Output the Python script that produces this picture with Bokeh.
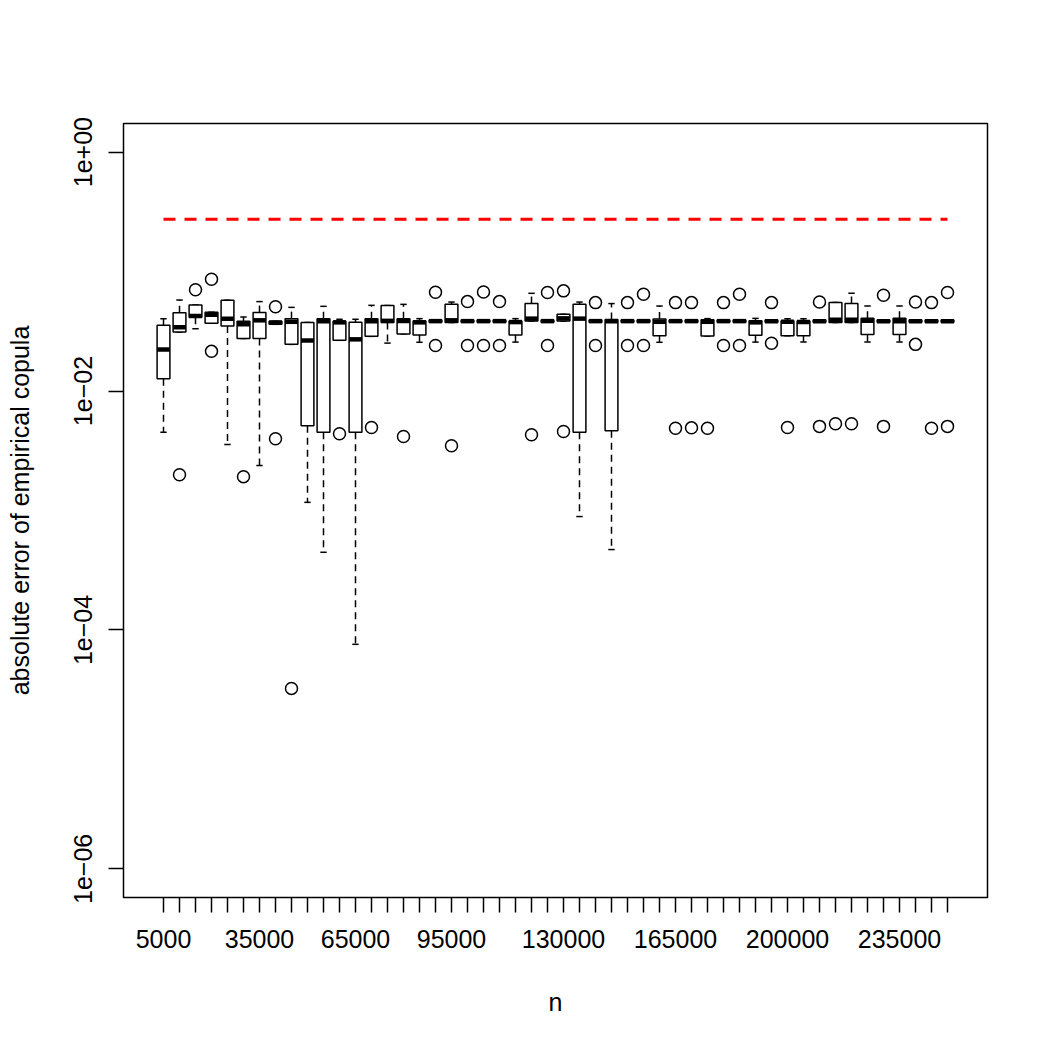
from bokeh.plotting import figure
from bokeh.models import Range1d, FixedTicker
from bokeh.embed import file_html
from bokeh.resources import INLINE

# sample sizes, one box per n
n_values = list(range(5000, 250001, 5000))
labelled_n = [5000, 35000, 65000, 95000, 130000, 165000, 200000, 235000]

# five-number summaries of the absolute error for each n
lower_whisker = [0.00453, 0.0312, 0.0333, 0.0369, 0.00357, 0.0276, 0.00238, 0.0362, 0.0246, 0.00117,
                 0.000447, 0.0266, 0.0000758, 0.0287, 0.0252, 0.0301, 0.0256, 0.0377, 0.0375, 0.0377,
                 0.0377, 0.0377, 0.0257, 0.0386, 0.0377, 0.0386, 0.000890, 0.0377, 0.000471, 0.0377,
                 0.0377, 0.0256, 0.0377, 0.0377, 0.0289, 0.0377, 0.0377, 0.0257, 0.0377, 0.0290,
                 0.0258, 0.0377, 0.0375, 0.0375, 0.0258, 0.0377, 0.0258, 0.0377, 0.0377, 0.0377]
q1 = [0.0127, 0.0312, 0.0414, 0.0369, 0.0350, 0.0276, 0.0276, 0.0362, 0.0246, 0.00513,
      0.00453, 0.0266, 0.00453, 0.0287, 0.0375, 0.0301, 0.0295, 0.0377, 0.0375, 0.0377,
      0.0377, 0.0377, 0.0295, 0.0386, 0.0377, 0.0386, 0.00453, 0.0377, 0.00465, 0.0377,
      0.0377, 0.0291, 0.0377, 0.0377, 0.0289, 0.0377, 0.0377, 0.0293, 0.0377, 0.0290,
      0.0290, 0.0377, 0.0375, 0.0375, 0.0298, 0.0377, 0.0298, 0.0377, 0.0377, 0.0377]
median = [0.0223, 0.0342, 0.0426, 0.0435, 0.0404, 0.0362, 0.0391, 0.0374, 0.0380, 0.0265,
          0.0384, 0.0376, 0.0271, 0.0384, 0.0387, 0.0386, 0.0376, 0.0385, 0.0391, 0.0385,
          0.0385, 0.0385, 0.0378, 0.0404, 0.0385, 0.0406, 0.0404, 0.0385, 0.0384, 0.0385,
          0.0385, 0.0380, 0.0385, 0.0385, 0.0380, 0.0385, 0.0385, 0.0376, 0.0385, 0.0380,
          0.0378, 0.0385, 0.0395, 0.0395, 0.0387, 0.0385, 0.0384, 0.0385, 0.0385, 0.0385]
q3 = [0.0355, 0.0452, 0.0525, 0.0456, 0.0575, 0.0384, 0.0454, 0.0384, 0.0404, 0.0375,
      0.0404, 0.0384, 0.0376, 0.0404, 0.0520, 0.0404, 0.0386, 0.0393, 0.0532, 0.0393,
      0.0393, 0.0393, 0.0386, 0.0540, 0.0393, 0.0439, 0.0534, 0.0393, 0.0397, 0.0393,
      0.0393, 0.0402, 0.0393, 0.0393, 0.0395, 0.0393, 0.0393, 0.0387, 0.0393, 0.0387,
      0.0386, 0.0393, 0.0550, 0.0540, 0.0406, 0.0393, 0.0406, 0.0393, 0.0393, 0.0393]
upper_whisker = [0.0403, 0.0578, 0.0525, 0.0456, 0.0575, 0.0417, 0.0561, 0.0384, 0.0502, 0.0375,
                 0.0512, 0.0399, 0.0399, 0.0522, 0.0520, 0.0532, 0.0404, 0.0393, 0.0556, 0.0393,
                 0.0393, 0.0393, 0.0404, 0.0658, 0.0393, 0.0439, 0.0556, 0.0393, 0.0540, 0.0393,
                 0.0393, 0.0515, 0.0393, 0.0393, 0.0404, 0.0393, 0.0393, 0.0406, 0.0393, 0.0404,
                 0.0404, 0.0393, 0.0550, 0.0658, 0.0515, 0.0393, 0.0515, 0.0393, 0.0393, 0.0393]

# points beyond the whiskers: box number (1-based) and value
outlier_box = [2, 3, 4, 4, 6, 8, 8, 9, 12, 14, 16, 18, 18, 19, 20, 20, 21, 21, 22, 22,
               24, 25, 25, 26, 26, 28, 28, 30, 30, 31, 31, 33, 33, 34, 34, 35, 36, 36, 37, 37,
               39, 39, 40, 42, 42, 43, 44, 46, 46, 48, 48, 49, 49, 50, 50]
outlier_value = [0.00199, 0.0704, 0.0862, 0.0215, 0.00192, 0.0508, 0.00399, 0.0000324, 0.00439, 0.00496,
                 0.00417, 0.0671, 0.0241, 0.00348, 0.0561, 0.0241, 0.0675, 0.0241, 0.0561, 0.0241,
                 0.00431, 0.0668, 0.0241, 0.0690, 0.00459, 0.0550, 0.0241, 0.0550, 0.0241, 0.0646,
                 0.0241, 0.0550, 0.00489, 0.0550, 0.00492, 0.00489, 0.0550, 0.0241, 0.0646, 0.0241,
                 0.0550, 0.0251, 0.00496, 0.0556, 0.00506, 0.00533, 0.00533, 0.0633, 0.00506, 0.0556,
                 0.0246, 0.0550, 0.00489, 0.0668, 0.00506]

# horizontal reference level (red dashed)
reference_level = 0.275

FONT = "Liberation Sans"
positions = list(range(1, len(n_values) + 1))

p = figure(width=1050, height=1050, y_axis_type="log",
           x_range=Range1d(-1.5, len(n_values) + 2.5),
           y_range=Range1d(10 ** -6.24, 10 ** 0.24),
           output_backend="svg", toolbar_location=None,
           min_border_left=123, min_border_right=63,
           min_border_top=123, min_border_bottom=153,
           background_fill_color="white", border_fill_color="white")
p.grid.visible = False
p.outline_line_color = "black"
p.outline_line_width = 1.5
p.outline_line_alpha = 1.0

# x axis: a tick under every box, labels only on some of them
xlabels = {}
for pos, n in zip(positions, n_values):
    xlabels[pos] = str(n) if n in labelled_n else ""
p.xaxis.ticker = FixedTicker(ticks=positions)
p.xaxis.major_label_overrides = xlabels
p.xaxis.axis_label = "n"

# y axis: every second decade
p.yaxis.ticker = FixedTicker(ticks=[1e-6, 1e-4, 1e-2, 1.0])
p.yaxis.major_label_overrides = {1e-6: "1e\u221206", 1e-4: "1e\u221204", 1e-2: "1e\u221202", 1.0: "1e+00"}
p.yaxis.major_label_orientation = "vertical"
p.yaxis.axis_label = "absolute error of empirical copula"

for ax in (p.xaxis[0], p.yaxis[0]):
    ax.axis_line_color = None
    ax.major_tick_in = 0
    ax.major_tick_out = 15
    ax.major_tick_line_width = 1.5
    ax.major_tick_line_color = "black"
    ax.minor_tick_line_color = None
    ax.major_label_text_font = FONT
    ax.major_label_text_font_size = "25px"
    ax.major_label_text_color = "black"
    ax.axis_label_text_font = FONT
    ax.axis_label_text_font_size = "25px"
    ax.axis_label_text_font_style = "normal"
    ax.axis_label_text_color = "black"

p.xaxis.major_label_standoff = 17
p.xaxis.axis_label_standoff = 37
p.yaxis.major_label_standoff = 16
p.yaxis.axis_label_standoff = 38

half_box = 0.4
half_staple = 0.2

# whiskers
p.segment(x0=positions, x1=positions, y0=q3, y1=upper_whisker,
          line_color="black", line_width=1.5, line_dash="7 5")
p.segment(x0=positions, x1=positions, y0=q1, y1=lower_whisker,
          line_color="black", line_width=1.5, line_dash="7 5")
# staples
p.segment(x0=[x - half_staple for x in positions], x1=[x + half_staple for x in positions],
          y0=upper_whisker, y1=upper_whisker, line_color="black", line_width=1.5)
p.segment(x0=[x - half_staple for x in positions], x1=[x + half_staple for x in positions],
          y0=lower_whisker, y1=lower_whisker, line_color="black", line_width=1.5)
# boxes
p.vbar(x=positions, width=2 * half_box, bottom=q1, top=q3,
       fill_color="white", line_color="black", line_width=1.5)
# medians
p.segment(x0=[x - half_box for x in positions], x1=[x + half_box for x in positions],
          y0=median, y1=median, line_color="black", line_width=4.5, line_cap="butt")
# outliers
p.scatter(x=outlier_box, y=outlier_value, marker="circle", size=12,
          fill_color=None, line_color="black", line_width=1.5)
# reference level
p.line(x=[positions[0], positions[-1]], y=[reference_level, reference_level],
       line_color="red", line_width=3, line_dash="12 9")

open("out.html", "w").write(file_html(p, INLINE))
